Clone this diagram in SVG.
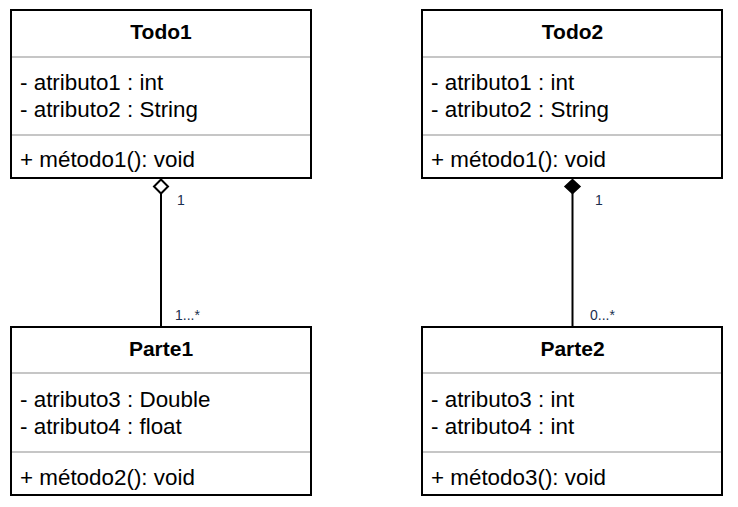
<svg xmlns="http://www.w3.org/2000/svg" width="738" height="507" viewBox="0 0 738 507">
  <style>
    .box { fill: #ffffff; stroke: #000000; stroke-width: 2; }
    .sep { stroke: #b3b3b3; stroke-width: 1.5; }
    .title { font-family: "Liberation Sans", Arial, sans-serif; font-size: 21px; font-weight: bold; fill: #000000; text-anchor: middle; }
    .txt { font-family: "Liberation Sans", Arial, sans-serif; font-size: 22.4px; fill: #000000; }
    .edge { stroke: #000000; stroke-width: 2; fill: none; }
    .mult { font-family: "Liberation Sans", Arial, sans-serif; font-size: 14px; fill: #1a2f4f; }
  </style>
  <rect width="738" height="507" fill="#ffffff"/>

  <g id="Todo1">
    <rect class="box" x="11" y="10" width="300" height="168"/>
    <line class="sep" x1="12" y1="57" x2="310" y2="57"/>
    <line class="sep" x1="12" y1="135" x2="310" y2="135"/>
    <text class="title" x="161" y="39">Todo1</text>
    <text class="txt" x="20" y="89.5">- atributo1 : int</text>
    <text class="txt" x="20" y="116.5">- atributo2 : String</text>
    <text class="txt" x="20" y="167">+ método1(): void</text>
  </g>

  <g id="Todo2">
    <rect class="box" x="422" y="10" width="300" height="168"/>
    <line class="sep" x1="423" y1="57" x2="721" y2="57"/>
    <line class="sep" x1="423" y1="135" x2="721" y2="135"/>
    <text class="title" x="572.5" y="39">Todo2</text>
    <text class="txt" x="431" y="89.5">- atributo1 : int</text>
    <text class="txt" x="431" y="116.5">- atributo2 : String</text>
    <text class="txt" x="431" y="167">+ método1(): void</text>
  </g>

  <g id="Parte1">
    <rect class="box" x="11" y="327" width="300" height="168"/>
    <line class="sep" x1="12" y1="373" x2="310" y2="373"/>
    <line class="sep" x1="12" y1="452" x2="310" y2="452"/>
    <text class="title" x="161" y="356">Parte1</text>
    <text class="txt" x="20" y="406.5">- atributo3 : Double</text>
    <text class="txt" x="20" y="433.5">- atributo4 : float</text>
    <text class="txt" x="20" y="484.5">+ método2(): void</text>
  </g>

  <g id="Parte2">
    <rect class="box" x="422" y="327" width="300" height="168"/>
    <line class="sep" x1="423" y1="373" x2="721" y2="373"/>
    <line class="sep" x1="423" y1="452" x2="721" y2="452"/>
    <text class="title" x="572.5" y="356">Parte2</text>
    <text class="txt" x="431" y="406.5">- atributo3 : int</text>
    <text class="txt" x="431" y="433.5">- atributo4 : int</text>
    <text class="txt" x="431" y="484.5">+ método3(): void</text>
  </g>

  <g id="connectors">
    <g id="aggregation-Todo1-Parte1">
      <line class="edge" x1="161" y1="193" x2="161" y2="326"/>
      <polygon points="161,179.5 168,186.5 161,193.5 154,186.5" fill="#ffffff" stroke="#000000" stroke-width="2"/>
      <text class="mult" x="177" y="205">1</text>
      <text class="mult" x="175" y="320">1...*</text>
    </g>
    <g id="composition-Todo2-Parte2">
      <line class="edge" x1="572.5" y1="193" x2="572.5" y2="326"/>
      <polygon points="572.5,179.5 580,186.5 572.5,193.5 565,186.5" fill="#000000" stroke="#000000" stroke-width="1.5"/>
      <text class="mult" x="595" y="205">1</text>
      <text class="mult" x="590" y="320">0...*</text>
    </g>
  </g>
</svg>
